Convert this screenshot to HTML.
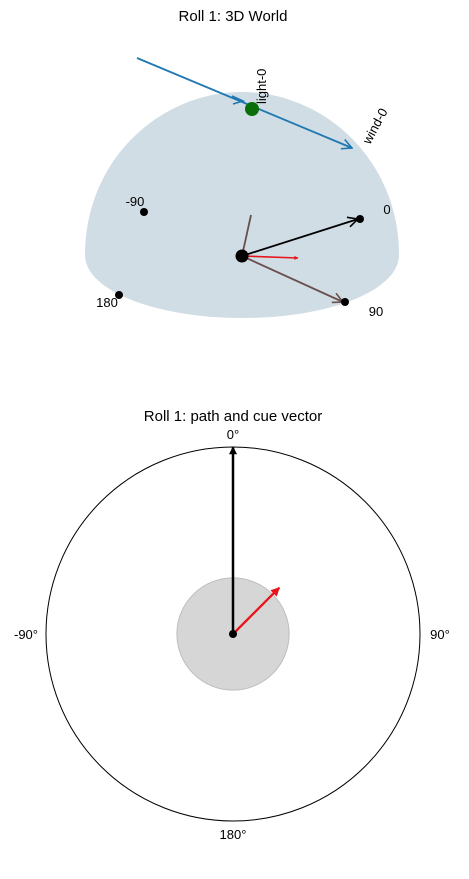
<!DOCTYPE html>
<html><head><meta charset="utf-8">
<style>
html,body{margin:0;padding:0;background:#fff;}
svg{display:block;font-family:"Liberation Sans","DejaVu Sans",sans-serif;}
</style></head>
<body>
<svg id="fig" width="469" height="879" viewBox="0 0 469 879" xmlns="http://www.w3.org/2000/svg">
<defs>
<marker id="hb" viewBox="0 0 10 10" refX="9" refY="5" markerWidth="12" markerHeight="8" orient="auto" markerUnits="userSpaceOnUse"><path d="M0,0 L10,5 L0,10 z" fill="#000"/></marker>
<marker id="hr" viewBox="0 0 10 10" refX="9" refY="5" markerWidth="12" markerHeight="9" orient="auto" markerUnits="userSpaceOnUse"><path d="M0,0 L10,5 L0,10 z" fill="#e8141c"/></marker>
<marker id="ob" viewBox="0 0 12 12" refX="11" refY="6" markerWidth="12" markerHeight="12" orient="auto" markerUnits="userSpaceOnUse"><path d="M1,1 L11,6 L1,11" fill="none" stroke="#1f77b4" stroke-width="1.6"/></marker>
<marker id="ok" viewBox="0 0 12 12" refX="11" refY="6" markerWidth="12" markerHeight="12" orient="auto" markerUnits="userSpaceOnUse"><path d="M1,1 L11,6 L1,11" fill="none" stroke="#000" stroke-width="1.6"/></marker>
<marker id="om" viewBox="0 0 12 12" refX="11" refY="6" markerWidth="12" markerHeight="12" orient="auto" markerUnits="userSpaceOnUse"><path d="M1,1 L11,6 L1,11" fill="none" stroke="#6b4f4f" stroke-width="1.6"/></marker>
<marker id="sr" viewBox="0 0 10 10" refX="9" refY="5" markerWidth="6" markerHeight="4" orient="auto" markerUnits="userSpaceOnUse"><path d="M0,0 L10,5 L0,10 z" fill="#e8141c"/></marker>
</defs>
<text x="233" y="21" font-size="15" text-anchor="middle">Roll 1: 3D World</text>
<path d="M85,255 C85,160 160,92 242,92 C324,92 399,160 399,255 C399,290 330,318 242,318 C154,318 85,290 85,255 Z" fill="#d0dde4"/>
<g id="topScene"></g>
<text x="233" y="421" font-size="15" text-anchor="middle">Roll 1: path and cue vector</text>
<g id="polar"></g>
</svg>
<script>
// top 3D scene (screen-projected)
const world3dLabels = ["0","90","-90","180"];
const world3dPx = [360,345,144,119];
const world3dPy = [219,302,212,295];
// polar data
const polarTicks = ["0°","90°","180°","-90°"];
const polarTickAngles = [0,90,180,-90];
const arrowNames = ["path-arrow","cue-arrow"];
const arrowAngles = [0,45];
const arrowMags = [1.0,0.35];
const cueRadius = 0.3;

const NS="http://www.w3.org/2000/svg";
function mk(t,a,p){const e=document.createElementNS(NS,t);for(const k in a)e.setAttribute(k,a[k]);p.appendChild(e);return e;}
const topG=document.getElementById('topScene');
const cx0=242,cy0=256;
let e=mk('line',{x1:137,y1:58,x2:352,y2:148,stroke:'#1f77b4','stroke-width':1.8,'marker-end':'url(#ob)'},topG);


e=mk('path',{d:'M232,96 l11,5 l-10,3',fill:'none',stroke:'#1f77b4','stroke-width':1.6},topG);


e=mk('circle',{cx:252,cy:109,r:7,fill:'#0a6e0a'},topG);


e=mk('text',{x:0,y:0,'font-size':13,transform:'translate(266,104) rotate(-90)'},topG);e.textContent='light-0';


e=mk('text',{x:0,y:0,'font-size':13,transform:'translate(370,145) rotate(-62)'},topG);e.textContent='wind-0';


e=mk('line',{x1:cx0,y1:cy0,x2:251,y2:215,stroke:'#6b4f4f','stroke-width':1.8},topG);


e=mk('line',{x1:cx0,y1:cy0,x2:358,y2:219,stroke:'#000','stroke-width':1.8,'marker-end':'url(#ok)'},topG);


e=mk('line',{x1:cx0,y1:cy0,x2:343,y2:302,stroke:'#6b4f4f','stroke-width':1.8,'marker-end':'url(#om)'},topG);


e=mk('line',{x1:cx0,y1:cy0,x2:298,y2:258,stroke:'#e8141c','stroke-width':1.6,'marker-end':'url(#sr)'},topG);


e=mk('circle',{cx:cx0,cy:cy0,r:6.5,fill:'#000'},topG);


const lblOff=[[27,-9],[31,10],[-9,-10],[-12,8]];
world3dLabels.forEach((l,i)=>{
  let c=mk('circle',{cx:world3dPx[i],cy:world3dPy[i],r:4,fill:'#000'},topG);
  
  
  let t=mk('text',{x:world3dPx[i]+lblOff[i][0],y:world3dPy[i]+lblOff[i][1]+4,'font-size':13,'text-anchor':'middle'},topG);
  t.textContent=l;
  
  
});
const P=document.getElementById('polar');
const pcx=233,pcy=634,R=187;
function px(a,r){return pcx+Math.sin(a*Math.PI/180)*r*R;}
function py(a,r){return pcy-Math.cos(a*Math.PI/180)*r*R;}
e=mk('circle',{cx:pcx,cy:pcy,r:R,fill:'none',stroke:'#000','stroke-width':1},P);


e=mk('circle',{cx:pcx,cy:pcy,r:cueRadius*R,fill:'#d6d6d6',stroke:'#bdbdbd','stroke-width':1},P);


polarTicks.forEach((l,i)=>{
  const a=polarTickAngles[i];
  let x=px(a,1.0),y=py(a,1.0);
  let dx=Math.sin(a*Math.PI/180)*20,dy=-Math.cos(a*Math.PI/180)*13;
  let t=mk('text',{x:x+dx,y:y+dy+5,'font-size':13,'text-anchor':'middle'},P);
  t.textContent=l;
  
  
});
const cols=['#000','#e8141c'],mks=['url(#hb)','url(#hr)'],ws=[2.5,2.3];
arrowNames.forEach((n,i)=>{
  let l=mk('line',{x1:pcx,y1:pcy,x2:px(arrowAngles[i],arrowMags[i]),y2:py(arrowAngles[i],arrowMags[i]),stroke:cols[i],'stroke-width':ws[i],'marker-end':mks[i]},P);
  
  
});
e=mk('circle',{cx:pcx,cy:pcy,r:4,fill:'#000'},P);


</script>
</body></html>
